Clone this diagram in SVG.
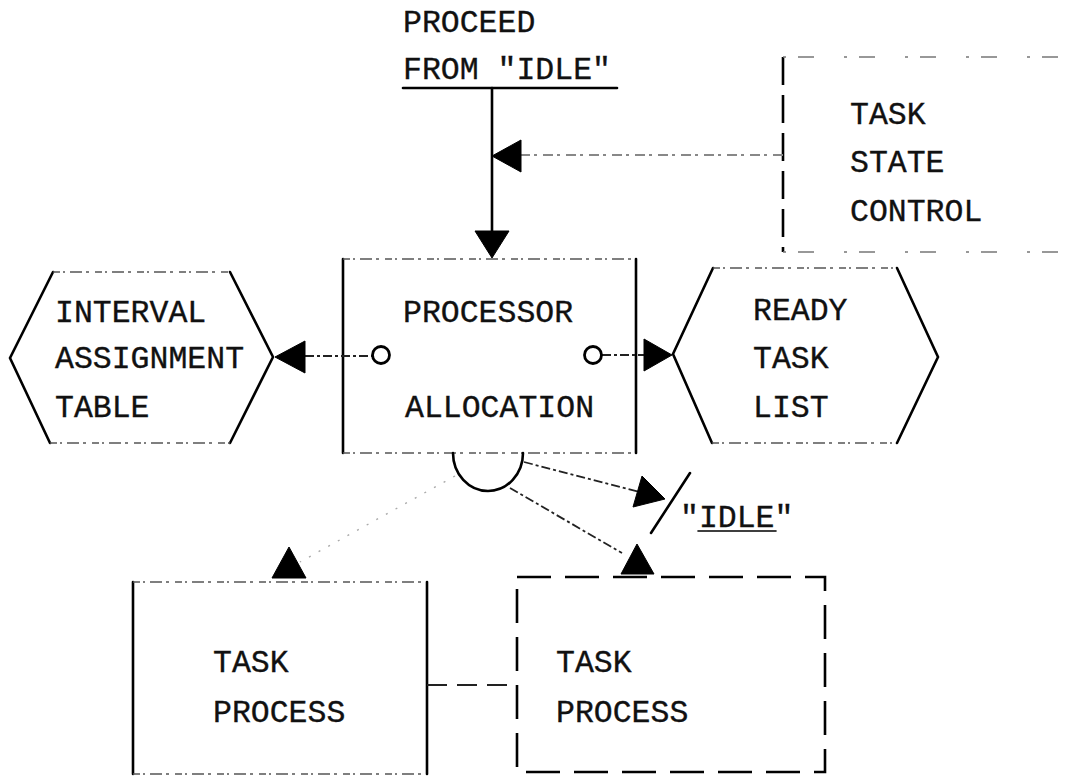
<svg xmlns="http://www.w3.org/2000/svg" width="1070" height="778" viewBox="0 0 1070 778">
<style>
.t{font-family:"Liberation Mono","Courier New",monospace;font-size:31.5px;fill:#111;stroke:#111;stroke-width:0.35;}
.s{stroke:#000;stroke-width:2.6;fill:none;stroke-linecap:round;}
.f{stroke:#555;stroke-width:1.5;fill:none;stroke-dasharray:7 3 2 5 12 4 3 6;}
.fx{stroke:#777;stroke-width:1.5;fill:none;stroke-dasharray:3 12 16 30;}
.ld{stroke:#000;stroke-width:2.6;fill:none;stroke-dasharray:34 14;}
.cn{stroke:#222;stroke-width:1.8;fill:none;stroke-dasharray:9 3 3 3;}
.fd{stroke:#aaa;stroke-width:1.4;fill:none;stroke-dasharray:2 9;}
.tri{fill:#000;stroke:#000;stroke-width:1;stroke-linejoin:round;}
.c{fill:#fff;stroke:#000;stroke-width:2.8;}
</style>
<rect width="1070" height="778" fill="#fff"/>

<g id="proceed">
<text class="t" x="403" y="32">PROCEED</text>
<text class="t" x="403" y="79">FROM "IDLE"</text>
<line class="s" x1="403" y1="88" x2="617" y2="88"/>
</g>

<g id="task-state-control">
<line class="ld" x1="783" y1="57" x2="783" y2="252" style="stroke-dasharray:28 10"/>
<line class="fx" x1="783" y1="57" x2="1066" y2="57"/>
<line class="fx" x1="783" y1="252" x2="1066" y2="252"/>
<text class="t" x="850" y="124">TASK</text>
<text class="t" x="850" y="172">STATE</text>
<text class="t" x="850" y="221">CONTROL</text>
</g>

<g id="processor-allocation">
<line class="s" x1="343" y1="259" x2="343" y2="453"/>
<line class="s" x1="636" y1="259" x2="636" y2="453"/>
<line class="f" x1="343" y1="259" x2="636" y2="259"/>
<line class="f" x1="343" y1="453" x2="636" y2="453"/>
<text class="t" x="403" y="322">PROCESSOR</text>
<text class="t" x="405" y="417">ALLOCATION</text>
<path class="s" d="M453,453 A35,38 0 0 0 523,453"/>
</g>

<g id="interval-assignment-table">
<path class="s" d="M53,272 L10,358 L50,443 M230,443 L273,357 L230,272"/>
<line class="f" x1="53" y1="272" x2="230" y2="272"/>
<line class="f" x1="50" y1="443" x2="230" y2="443"/>
<text class="t" x="55" y="322">INTERVAL</text>
<text class="t" x="55" y="368">ASSIGNMENT</text>
<text class="t" x="55" y="417">TABLE</text>
</g>

<g id="ready-task-list">
<path class="s" d="M713,268 L673,354 L712,443 M897,443 L938,357 L897,268"/>
<line class="f" x1="713" y1="268" x2="897" y2="268"/>
<line class="f" x1="712" y1="443" x2="897" y2="443"/>
<text class="t" x="753" y="320">READY</text>
<text class="t" x="753" y="368">TASK</text>
<text class="t" x="753" y="417">LIST</text>
</g>

<g id="task-process-1">
<line class="s" x1="133" y1="582" x2="133" y2="774"/>
<line class="s" x1="427" y1="582" x2="427" y2="774"/>
<line class="f" x1="133" y1="582" x2="427" y2="582"/>
<line class="f" x1="133" y1="774" x2="427" y2="774"/>
<text class="t" x="213" y="672">TASK</text>
<text class="t" x="213" y="722">PROCESS</text>
</g>

<g id="task-process-2">
<rect class="ld" x="517" y="577" width="308" height="195"/>
<text class="t" x="556" y="672">TASK</text>
<text class="t" x="556" y="722">PROCESS</text>
</g>

<g id="idle-label">
<line class="s" x1="690" y1="473" x2="651" y2="533"/>
<text class="t" x="680" y="527">"IDLE"</text>
<line class="s" x1="698" y1="531" x2="776" y2="531" style="stroke-width:1.6"/>
</g>

<g id="connectors">
<line class="s" x1="492" y1="88" x2="492" y2="234"/>
<polygon class="tri" points="475,231 509,231 492,258"/>
<line class="cn" x1="520" y1="155" x2="783" y2="155" style="stroke:#888;stroke-dasharray:10 4 3 6"/>
<polygon class="tri" points="492,156 521,140 521,172"/>
<line class="cn" x1="305" y1="356" x2="372" y2="356"/>
<circle class="c" cx="381" cy="355" r="8.5"/>
<polygon class="tri" points="275,357 305,341 305,373"/>
<line class="cn" x1="602" y1="355" x2="645" y2="355"/>
<circle class="c" cx="593" cy="355" r="8.5"/>
<polygon class="tri" points="672,355 644,339 644,371"/>
<line class="cn" x1="524" y1="462" x2="640" y2="492"/>
<polygon class="tri" points="665,499 642,476 633,507"/>
<line class="cn" x1="510" y1="488" x2="622" y2="553"/>
<polygon class="tri" points="637,544 621,574 654,574"/>
<line class="fd" x1="455" y1="476" x2="300" y2="562"/>
<polygon class="tri" points="289,547 272,578 306,578"/>
<line class="cn" x1="427" y1="685" x2="517" y2="685" style="stroke-dasharray:20 10"/>
</g>
</svg>
